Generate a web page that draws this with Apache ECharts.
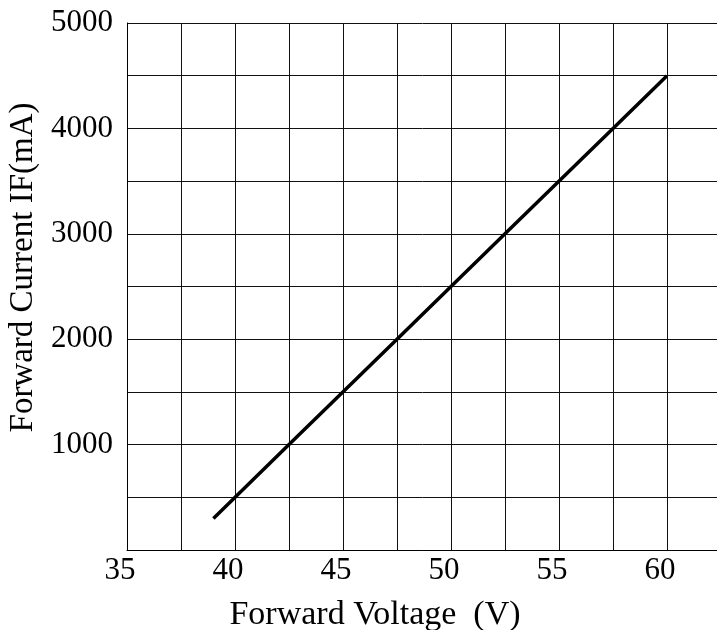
<!DOCTYPE html>
<html>
<head>
<meta charset="utf-8">
<script src="https://cdn.jsdelivr.net/npm/echarts@6/dist/echarts.min.js"></script>
<style>
  html, body { margin: 0; padding: 0; background: #fff; }
  #chart { width: 717px; height: 630px; }
</style>
</head>
<body>
<div id="chart"></div>
<script>
// forward voltage (V) vs forward current (mA)
var voltage = [39, 42.5, 47.5, 52.5, 57.5, 60];
var current = [300, 1000, 2000, 3000, 4000, 4500];

var xTicks = [35, 40, 45, 50, 55, 60];
var yTicks = [1000, 2000, 3000, 4000, 5000];

initChart();
function initChart(){
    var dom = document.getElementById('chart');
    var myChart = echarts.init(dom, null, { renderer: 'canvas' });

    var points = voltage.map(function (v, i) { return [v, current[i]]; });
    var font = 'Liberation Serif';

    var option = {
        animation: false,
        grid: { left: 127, width: 594, top: 23, height: 527, outerBoundsMode: 'none' },
        xAxis: {
          type: 'value',
          min: 35,
          max: 62.5,
          interval: 2.5,
          name: 'Forward Voltage  (V)',
          nameLocation: 'middle',
          nameGap: 48,
          nameTextStyle: { fontFamily: font, fontSize: 34, color: '#000', padding: [0, 98, 0, 0] },
          axisLine: { lineStyle: { color: '#000', width: 1 } },
          axisTick: { show: false },
          axisLabel: {
            margin: 5,
            fontFamily: font, fontSize: 31, color: '#000',
            padding: [0, 14, 0, 0],
            formatter: function (v) { return xTicks.indexOf(v) >= 0 ? String(v) : ''; }
          },
          splitLine: { show: true, lineStyle: { color: '#111', width: 1 } }
        },
        yAxis: {
          type: 'value',
          min: 0,
          max: 5000,
          interval: 500,
          name: 'Forward Current IF(mA)',
          nameLocation: 'middle',
          nameGap: 84,
          nameRotate: 90,
          nameTextStyle: { fontFamily: font, fontSize: 33, color: '#000', padding: [0, 0, 0, 38] },
          axisLine: { show: true, lineStyle: { color: '#000', width: 1 } },
          axisTick: { show: false },
          axisLabel: {
            margin: 14,
            fontFamily: font, fontSize: 31, color: '#000',
            formatter: function (v) { return yTicks.indexOf(v) >= 0 ? String(v) : ''; }
          },
          splitLine: { show: true, lineStyle: { color: '#111', width: 1 } }
        },
        series: [
          {
            type: 'line',
            data: points,
            showSymbol: false,
            lineStyle: { color: '#000', width: 3.5 }
          }
        ]
    };

    myChart.setOption(option);
    window.addEventListener('resize', myChart.resize);
}
</script>
</body>
</html>
